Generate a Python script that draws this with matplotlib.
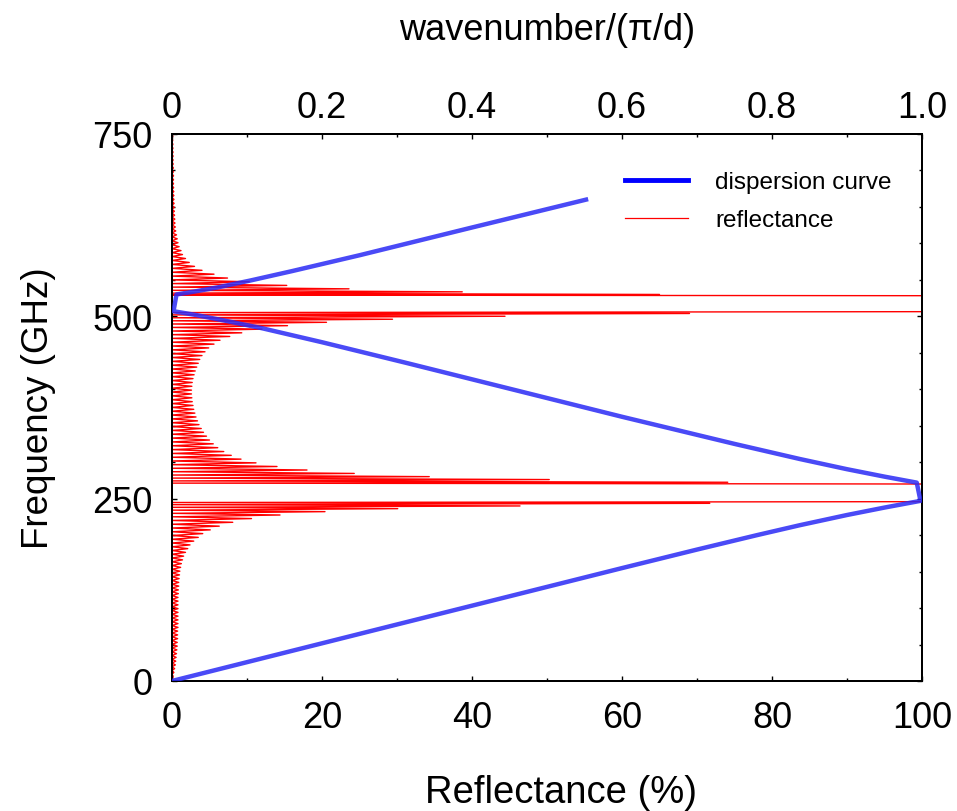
import numpy as np
import matplotlib
matplotlib.use("Agg")
import matplotlib.pyplot as plt
from matplotlib.lines import Line2D
from matplotlib.ticker import MultipleLocator, FuncFormatter

plt.rcParams['font.family'] = ['Liberation Sans', 'DejaVu Sans']

# ---- reflectance spectrum: fringe maxima (frequency in GHz, reflectance in %) ----
band1_peak_freq = [6.7, 11.8, 17.0, 22.1, 27.2, 32.4, 37.5, 42.7, 47.8, 52.9,
                   58.1, 63.2, 68.4, 73.5, 78.7, 83.8, 88.9, 94.1, 99.2, 104.4,
                   109.5, 114.6, 119.8, 124.9, 130.1, 135.2, 140.4, 145.5, 150.6, 155.8,
                   160.9, 166.1, 171.2, 176.4, 181.5, 186.6, 191.8, 196.9, 202.1, 207.2,
                   212.3, 217.6, 222.7, 227.6, 232.2, 236.3, 240.0, 243.6]
band1_peak_refl = [0.15, 0.25, 0.35, 0.45, 0.5, 0.55, 0.6, 0.65, 0.7, 0.7,
                   0.75, 0.75, 0.75, 0.8, 0.8, 0.8, 0.8, 0.8, 0.8, 0.8,
                   0.8, 0.8, 0.85, 0.85, 0.9, 0.9, 0.95, 1.0, 1.05, 1.15,
                   1.25, 1.4, 1.55, 1.8, 2.1, 2.4, 2.9, 3.5, 4.1, 5.1,
                   6.3, 8.1, 10.6, 14.4, 20.4, 30.1, 46.4, 71.7]

stopband1 = [245.9, 270.1]

band2_peak_freq = [272.5, 276.2, 280.2, 284.6, 289.3, 294.1, 299.1, 304.2, 309.4, 314.6,
                   319.9, 325.2, 330.4, 335.7, 341.0, 346.2, 351.5, 356.7, 362.0, 367.3,
                   372.5, 377.8, 383.0, 388.3, 393.6, 398.8, 404.1, 409.3, 414.6, 419.9,
                   425.1, 430.4, 435.6, 440.9, 446.2, 451.4, 456.7, 461.9, 467.2, 472.4,
                   477.4, 482.4, 487.2, 491.8, 496.0, 500.1, 503.9]
band2_peak_refl = [74.1, 50.3, 34.3, 24.3, 18.0, 14.0, 11.2, 9.2, 7.9, 6.9,
                   6.1, 5.5, 5.0, 4.6, 4.2, 3.9, 3.6, 3.4, 3.2, 3.05,
                   2.9, 2.8, 2.7, 2.65, 2.6, 2.6, 2.65, 2.7, 2.8, 2.95,
                   3.1, 3.3, 3.5, 3.7, 4.0, 4.4, 4.9, 5.6, 6.4, 7.7,
                   9.3, 12.0, 15.4, 20.6, 29.4, 44.4, 69.0]

stopband2 = [506.4, 528.3]

band3_peak_freq = [530.0, 533.6, 537.7, 542.4, 547.4, 552.5, 557.8, 563.1, 568.5, 573.9,
                   579.3, 584.7, 590.1, 595.5, 600.9, 606.3, 611.7, 617.1, 622.5, 627.9,
                   633.3, 638.7, 644.1, 649.5, 654.9, 660.3, 665.7, 671.1, 676.5, 681.9,
                   687.3, 692.7, 698.1, 703.5, 708.9, 714.3, 719.7, 725.1, 730.5, 735.9,
                   741.3, 746.7]
band3_peak_refl = [65.0, 38.7, 23.6, 15.3, 10.3, 7.4, 5.6, 4.0, 3.0, 2.3,
                   1.8, 1.4, 1.2, 0.95, 0.8, 0.7, 0.6, 0.5, 0.45, 0.4,
                   0.38, 0.35, 0.32, 0.3, 0.28, 0.26, 0.25, 0.24, 0.22, 0.2,
                   0.2, 0.2, 0.18, 0.18, 0.16, 0.15, 0.15, 0.14, 0.13, 0.12,
                   0.1, 0.1]

# ---- dispersion relation: wavenumber (units of pi/d) vs frequency (GHz) ----
branch1_k = [0.003, 0.3, 0.6, 0.7, 0.78, 0.837, 0.9, 0.95, 0.998]
branch1_f = [0.8, 77.5, 154.8, 180.2, 200.0, 213.6, 227.6, 237.8, 247.0]
branch2_k = [0.993, 0.95, 0.9, 0.837, 0.75, 0.6, 0.313, 0.2, 0.12, 0.07, 0.03, 0.002]
branch2_f = [272.0, 280.2, 290.4, 304.4, 325.1, 362.3, 436.0, 464.5, 483.7, 494.2, 502.2, 507.0]
branch3_k = [0.006, 0.03, 0.06, 0.104, 0.16, 0.251, 0.4, 0.552]
branch3_f = [530.0, 534.0, 539.5, 549.0, 562.0, 584.0, 621.8, 660.0]

x_ticks_bottom = [0, 20, 40, 60, 80, 100]
x_ticks_top = [0, 0.2, 0.4, 0.6, 0.8, 1.0]
y_ticks = [0, 250, 500, 750]


def reflectance_trace():
    """Each fringe is drawn as a spike rising from zero; stop bands sit at 100 %."""
    node_f = np.concatenate([band1_peak_freq, stopband1, band2_peak_freq,
                             stopband2, band3_peak_freq])
    node_r = np.concatenate([band1_peak_refl, [100.0, 100.0], band2_peak_refl,
                             [100.0, 100.0], band3_peak_refl])
    plateau = np.concatenate([np.zeros(len(band1_peak_freq), bool), [True, True],
                              np.zeros(len(band2_peak_freq), bool), [True, True],
                              np.zeros(len(band3_peak_freq), bool)])
    tf, tr = [0.0], [0.0]
    for i in range(len(node_f)):
        if i > 0 and not (plateau[i] and plateau[i - 1]):
            tf.append(0.5 * (node_f[i - 1] + node_f[i]))
            tr.append(0.0)
        tf.append(node_f[i])
        tr.append(node_r[i])
    tf.append(750.0)
    tr.append(0.0)
    return np.array(tf), np.array(tr)


fig = plt.figure(figsize=(9.57, 8.12), dpi=100)
ax = fig.add_axes([172 / 957, 130 / 812, 750 / 957, 547 / 812])
ax2 = ax.twiny()

freq, refl = reflectance_trace()
ax.plot(refl, freq, color='#ff0000', lw=1.0, zorder=2)

disp_k = np.concatenate([branch1_k, branch2_k, branch3_k])
disp_f = np.concatenate([branch1_f, branch2_f, branch3_f])
ax2.plot(disp_k, disp_f, color='#2a2af5', lw=3.2, alpha=0.85,
         solid_joinstyle='round', zorder=3)

ax.set_xlim(0, 100)
ax.set_ylim(0, 750)
ax2.set_xlim(0, 1)
ax2.set_ylim(0, 750)

ax.set_xticks(x_ticks_bottom)
ax.set_yticks(y_ticks)
ax.xaxis.set_minor_locator(MultipleLocator(10))
ax.yaxis.set_minor_locator(MultipleLocator(50))
ax2.set_xticks(x_ticks_top)
ax2.xaxis.set_minor_locator(MultipleLocator(0.1))
ax2.xaxis.set_major_formatter(FuncFormatter(lambda v, p: '0' if v == 0 else f'{v:.1f}'))

ax.tick_params(axis='both', which='both', direction='in', top=False, right=True,
               labelsize=26, width=1.0)
ax.tick_params(which='major', length=3.5)
ax.tick_params(which='minor', length=2.5)
ax.tick_params(axis='x', pad=14)
ax.tick_params(axis='y', pad=14)
ax2.tick_params(axis='x', which='both', direction='in', labelsize=26, width=1.0, pad=6.5)
ax2.tick_params(which='major', length=3.5)
ax2.tick_params(which='minor', length=2.5)

for a in (ax, ax2):
    for s in a.spines.values():
        s.set_linewidth(1.4)

ax.set_xlabel('Reflectance (%)', fontsize=27.5)
ax.xaxis.set_label_coords(0.519, -0.17)
ax.set_ylabel('Frequency (GHz)', fontsize=26.5)
ax.yaxis.set_label_coords(-0.155, 0.5)
ax2.set_xlabel('wavenumber/(\u03c0/d)', fontsize=26)
ax2.xaxis.set_label_coords(0.5, 1.173)

handles = [Line2D([], [], color='#0000ff', lw=3.5),
           Line2D([], [], color='#ff0000', lw=0.9)]
fig.legend(handles, ['dispersion curve', 'reflectance'], loc='upper left',
           bbox_to_anchor=(625 / 957, 1 - 172 / 812), bbox_transform=fig.transFigure,
           frameon=False, fontsize=17.5, handlelength=2.6, handletextpad=1.1,
           labelspacing=0.67, borderpad=0, borderaxespad=0)

fig.savefig('out.png', dpi=100)
